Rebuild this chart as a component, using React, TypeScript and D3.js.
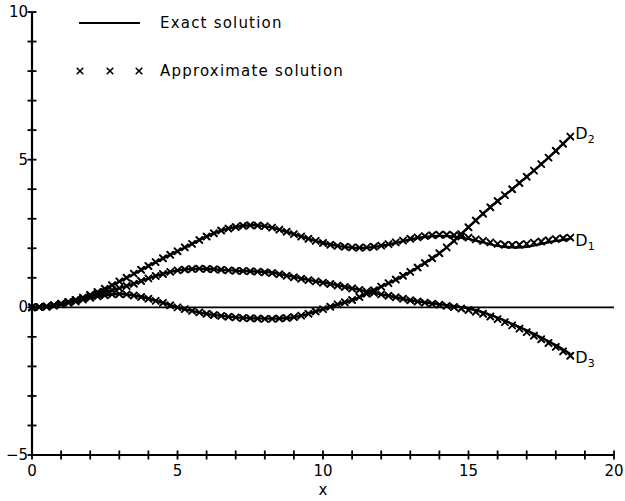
import React from "react";
import * as d3 from "d3";

// x positions of the exact-solution samples (step 0.5) and approximate-solution markers (step 0.25)
const exactX = d3.range(0, 18.501, 0.5);
const approxX = d3.range(0, 18.501, 0.25);

const d1Exact = [0, 0.03, 0.12, 0.25, 0.42, 0.62, 0.87, 1.13, 1.4, 1.66, 1.9, 2.15, 2.4, 2.6, 2.72, 2.78, 2.75, 2.63, 2.48, 2.32, 2.18, 2.08, 2.02, 2.02, 2.08, 2.18, 2.3, 2.38, 2.42, 2.4, 2.32, 2.2, 2.08, 2.03, 2.05, 2.15, 2.25, 2.32];
const d2Exact = [0, 0.03, 0.1, 0.2, 0.32, 0.4, 0.45, 0.4, 0.3, 0.15, 0.0, -0.12, -0.22, -0.29, -0.34, -0.37, -0.38, -0.38, -0.33, -0.22, -0.06, 0.1, 0.24, 0.46, 0.7, 0.93, 1.2, 1.5, 1.83, 2.25, 2.72, 3.17, 3.6, 4.0, 4.42, 4.85, 5.3, 5.78];
const d3Exact = [0, 0.03, 0.12, 0.25, 0.4, 0.52, 0.65, 0.8, 0.98, 1.13, 1.25, 1.3, 1.3, 1.27, 1.24, 1.22, 1.2, 1.13, 1.03, 0.93, 0.84, 0.75, 0.64, 0.54, 0.44, 0.34, 0.24, 0.17, 0.11, 0.04, -0.04, -0.17, -0.35, -0.56, -0.78, -1.02, -1.28, -1.58];

const d1Approx = [0, 0.01, 0.03, 0.07, 0.12, 0.18, 0.25, 0.33, 0.42, 0.52, 0.63, 0.75, 0.88, 1.0, 1.14, 1.27, 1.4, 1.53, 1.66, 1.78, 1.9, 2.03, 2.15, 2.28, 2.4, 2.51, 2.6, 2.67, 2.72, 2.76, 2.78, 2.77, 2.75, 2.7, 2.63, 2.56, 2.48, 2.4, 2.32, 2.25, 2.18, 2.12, 2.08, 2.05, 2.03, 2.02, 2.03, 2.05, 2.09, 2.14, 2.2, 2.26, 2.32, 2.37, 2.41, 2.44, 2.46, 2.46, 2.44, 2.4, 2.36, 2.3, 2.25, 2.2, 2.15, 2.12, 2.11, 2.12, 2.15, 2.19, 2.23, 2.27, 2.31, 2.34, 2.36];
const d2Approx = [0, 0.01, 0.03, 0.06, 0.1, 0.15, 0.2, 0.26, 0.32, 0.37, 0.41, 0.44, 0.45, 0.44, 0.4, 0.35, 0.29, 0.22, 0.15, 0.07, 0.0, -0.06, -0.12, -0.17, -0.22, -0.26, -0.29, -0.32, -0.34, -0.36, -0.37, -0.38, -0.39, -0.39, -0.38, -0.36, -0.33, -0.28, -0.22, -0.14, -0.06, 0.02, 0.1, 0.17, 0.25, 0.35, 0.46, 0.58, 0.7, 0.82, 0.94, 1.07, 1.2, 1.35, 1.5, 1.66, 1.83, 2.03, 2.25, 2.48, 2.71, 2.94, 3.17, 3.39, 3.6, 3.8, 4.0, 4.21, 4.42, 4.63, 4.85, 5.07, 5.3, 5.54, 5.78];
const d3Approx = [0, 0.01, 0.03, 0.07, 0.12, 0.18, 0.25, 0.32, 0.4, 0.46, 0.52, 0.58, 0.65, 0.72, 0.8, 0.89, 0.98, 1.06, 1.13, 1.2, 1.25, 1.28, 1.3, 1.31, 1.3, 1.29, 1.27, 1.25, 1.24, 1.23, 1.22, 1.21, 1.19, 1.16, 1.12, 1.07, 1.02, 0.97, 0.92, 0.88, 0.83, 0.79, 0.74, 0.69, 0.64, 0.59, 0.54, 0.49, 0.44, 0.39, 0.34, 0.29, 0.24, 0.2, 0.16, 0.12, 0.09, 0.05, 0.01, -0.04, -0.09, -0.15, -0.22, -0.31, -0.4, -0.5, -0.61, -0.72, -0.84, -0.96, -1.08, -1.21, -1.34, -1.49, -1.64];

const xTickLabels = [0, 5, 10, 15, 20];
const yTickLabels = [10, 5, 0, -5];
const curveNames = ["1", "2", "3"];

const W = 625;
const H = 501;
const FONT = "'DejaVu Sans', sans-serif";

export default function App() {
  const x = d3.scaleLinear().domain([0, 20]).range([32, 614]);
  const y = d3.scaleLinear().domain([-5, 10]).range([455, 12]);

  const line = d3
    .line<[number, number]>()
    .x((d) => x(d[0]))
    .y((d) => y(d[1]))
    .curve(d3.curveCatmullRom);

  const exactSeries = [d1Exact, d2Exact, d3Exact];
  const approxSeries = [d1Approx, d2Approx, d3Approx];

  const xMinor = d3.range(0, 20.001, 1);
  const yMinor = d3.range(-5, 10.001, 1);

  const cross = (cx: number, cy: number, s: number, w: number, key: string) => (
    <g key={key} stroke="#000" strokeWidth={w} strokeLinecap="round">
      <line x1={cx - s} y1={cy - s} x2={cx + s} y2={cy + s} />
      <line x1={cx - s} y1={cy + s} x2={cx + s} y2={cy - s} />
    </g>
  );

  const labelEnds = [d1Exact, d2Exact, d3Exact].map((s) => s[s.length - 1]);
  const labelDy = [7, 2, 9];

  return (
    <svg
      width={W}
      height={H}
      style={{ position: "absolute", left: 0, top: 0, background: "#fff" }}
      fontFamily={FONT}
    >
      <rect width={W} height={H} fill="#fff" />
      {/* axes */}
      <line x1={x(0)} y1={y(-5)} x2={x(0)} y2={y(10)} stroke="#000" strokeWidth={2.2} />
      <line x1={x(0)} y1={y(-5)} x2={x(20)} y2={y(-5)} stroke="#000" strokeWidth={2.2} />
      {/* zero line */}
      <line x1={x(0)} y1={y(0)} x2={x(20)} y2={y(0)} stroke="#000" strokeWidth={1.8} />
      {xMinor.map((v) => (
        <line key={"xt" + v} x1={x(v)} x2={x(v)} y1={y(-5) - 4.5} y2={y(-5) + 4.5} stroke="#000" strokeWidth={1.8} />
      ))}
      {yMinor.map((v) => (
        <line key={"yt" + v} x1={x(0) - 4.5} x2={x(0) + 4.5} y1={y(v)} y2={y(v)} stroke="#000" strokeWidth={1.8} />
      ))}
      {xTickLabels.map((v) => (
        <text key={"xl" + v} x={x(v)} y={y(-5) + 21} textAnchor="middle" fontSize={15}>
          {v}
        </text>
      ))}
      {yTickLabels.map((v) => (
        <text key={"yl" + v} x={x(0) - 4} y={y(v) + 5} textAnchor="end" fontSize={15}>
          {v < 0 ? "\u2212" + Math.abs(v) : v}
        </text>
      ))}
      <text x={x(10)} y={y(-5) + 40} textAnchor="middle" fontSize={15}>
        x
      </text>

      {/* exact curves */}
      {exactSeries.map((s, i) => (
        <path
          key={"ex" + i}
          d={line(s.map((v, j) => [exactX[j], v] as [number, number])) || ""}
          fill="none"
          stroke="#000"
          strokeWidth={2.4}
        />
      ))}
      {/* approximate markers */}
      {approxSeries.map((s, i) =>
        s.map((v, j) => cross(x(approxX[j]), y(v), 3, 2, `ap${i}-${j}`))
      )}

      {/* curve labels */}
      {curveNames.map((n, i) => (
        <text key={"cl" + n} x={x(18.5) + 5} y={y(labelEnds[i]) + labelDy[i]} fontSize={16}>
          D<tspan fontSize={11} dy={4}>{n}</tspan>
        </text>
      ))}

      {/* legend */}
      <line x1={79} y1={23} x2={140} y2={23} stroke="#000" strokeWidth={2} />
      <text x={160} y={28} fontSize={15} letterSpacing={1.2}>
        Exact solution
      </text>
      {[80, 110, 139].map((cx) => cross(cx, 71, 2.8, 1.6, "lg" + cx))}
      <text x={160} y={76} fontSize={15} letterSpacing={1.2}>
        Approximate solution
      </text>
    </svg>
  );
}
